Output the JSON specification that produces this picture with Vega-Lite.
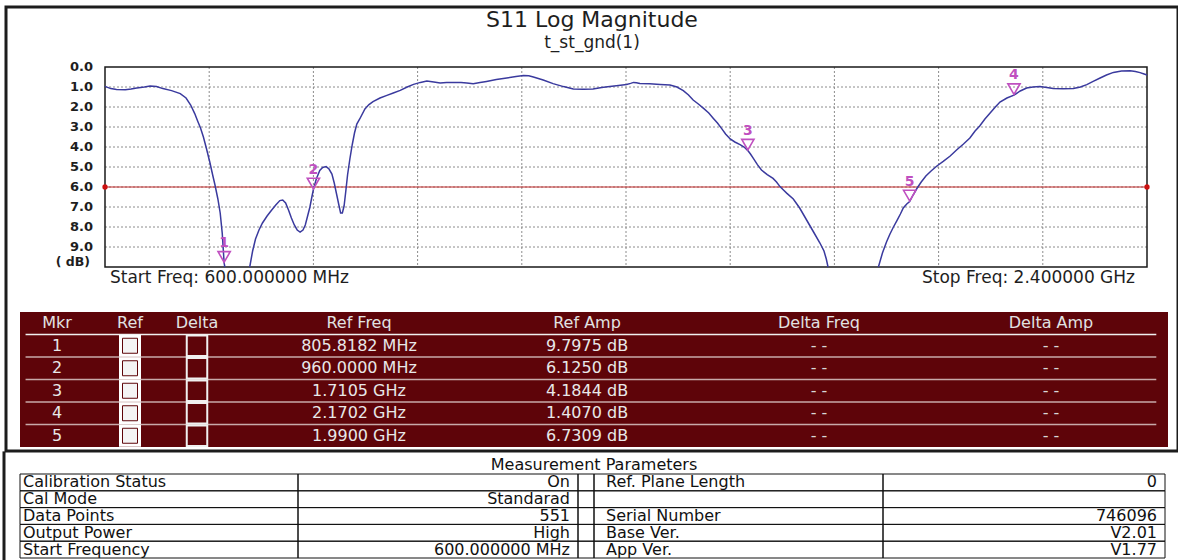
{
  "$schema": "https://vega.github.io/schema/vega-lite/v6.json",
  "width": 1172,
  "height": 444,
  "autosize": "none",
  "padding": {"left": 6, "top": 7, "right": 0, "bottom": 109},
  "background": "white",
  "view": {"stroke": "#1c1c1c", "strokeWidth": 3},
  "config": {"font": "DejaVu Sans"},
  "title": {
    "text": "S11 Log Magnitude",
    "subtitle": "t_st_gnd(1)",
    "anchor": "middle",
    "frame": "group",
    "offset": -45,
    "font": "DejaVu Sans",
    "fontSize": 22,
    "fontWeight": "normal",
    "color": "#1e1e1e",
    "subtitleFont": "DejaVu Sans",
    "subtitleFontSize": 17,
    "subtitleColor": "#1e1e1e",
    "subtitlePadding": 3
  },
  "datasets": {
    "trace": [
      {"seg": "A", "f": 600, "db": 0.97}, {"seg": "A", "f": 610, "db": 1.08}, {"seg": "A", "f": 620, "db": 1.13},
      {"seg": "A", "f": 635, "db": 1.14}, {"seg": "A", "f": 645, "db": 1.1}, {"seg": "A", "f": 655, "db": 1.05},
      {"seg": "A", "f": 668, "db": 1.0}, {"seg": "A", "f": 678, "db": 0.95}, {"seg": "A", "f": 689, "db": 0.98},
      {"seg": "A", "f": 700, "db": 1.08}, {"seg": "A", "f": 715, "db": 1.18}, {"seg": "A", "f": 730, "db": 1.33},
      {"seg": "A", "f": 740, "db": 1.55}, {"seg": "A", "f": 748, "db": 1.9}, {"seg": "A", "f": 755, "db": 2.33},
      {"seg": "A", "f": 760, "db": 2.7}, {"seg": "A", "f": 765, "db": 3.05}, {"seg": "A", "f": 770, "db": 3.5},
      {"seg": "A", "f": 775, "db": 4.05}, {"seg": "A", "f": 781, "db": 4.75}, {"seg": "A", "f": 786, "db": 5.4},
      {"seg": "A", "f": 790, "db": 5.9}, {"seg": "A", "f": 795, "db": 6.6}, {"seg": "A", "f": 799, "db": 7.3},
      {"seg": "A", "f": 802.5, "db": 8.3}, {"seg": "A", "f": 805.8, "db": 9.8}, {"seg": "A", "f": 807, "db": 10.0},
      {"seg": "B", "f": 850, "db": 10.0}, {"seg": "B", "f": 855, "db": 9.2}, {"seg": "B", "f": 860, "db": 8.6},
      {"seg": "B", "f": 866, "db": 8.15}, {"seg": "B", "f": 872, "db": 7.8}, {"seg": "B", "f": 880, "db": 7.45},
      {"seg": "B", "f": 888, "db": 7.15}, {"seg": "B", "f": 895, "db": 6.9}, {"seg": "B", "f": 902, "db": 6.68},
      {"seg": "B", "f": 907, "db": 6.65}, {"seg": "B", "f": 912, "db": 6.8}, {"seg": "B", "f": 917, "db": 7.15},
      {"seg": "B", "f": 922, "db": 7.55}, {"seg": "B", "f": 927, "db": 7.9}, {"seg": "B", "f": 932, "db": 8.15},
      {"seg": "B", "f": 937, "db": 8.25}, {"seg": "B", "f": 942, "db": 8.15}, {"seg": "B", "f": 946, "db": 7.9},
      {"seg": "B", "f": 950, "db": 7.45}, {"seg": "B", "f": 954, "db": 7.0}, {"seg": "B", "f": 957, "db": 6.55},
      {"seg": "B", "f": 960, "db": 6.125}, {"seg": "B", "f": 965, "db": 5.6}, {"seg": "B", "f": 971, "db": 5.17},
      {"seg": "B", "f": 976, "db": 5.02}, {"seg": "B", "f": 982, "db": 4.98}, {"seg": "B", "f": 987, "db": 5.1},
      {"seg": "B", "f": 992, "db": 5.35}, {"seg": "B", "f": 996, "db": 5.8}, {"seg": "B", "f": 1000, "db": 6.35},
      {"seg": "B", "f": 1004, "db": 6.9}, {"seg": "B", "f": 1007, "db": 7.3}, {"seg": "B", "f": 1010, "db": 7.3},
      {"seg": "B", "f": 1013, "db": 6.95}, {"seg": "B", "f": 1016, "db": 6.2}, {"seg": "B", "f": 1019, "db": 5.4},
      {"seg": "B", "f": 1023, "db": 4.6}, {"seg": "B", "f": 1027, "db": 3.9}, {"seg": "B", "f": 1031, "db": 3.3},
      {"seg": "B", "f": 1035, "db": 2.85}, {"seg": "B", "f": 1040, "db": 2.6}, {"seg": "B", "f": 1049, "db": 2.1},
      {"seg": "B", "f": 1056, "db": 1.88}, {"seg": "B", "f": 1063, "db": 1.73}, {"seg": "B", "f": 1075, "db": 1.55},
      {"seg": "B", "f": 1087, "db": 1.42}, {"seg": "B", "f": 1098, "db": 1.3}, {"seg": "B", "f": 1110, "db": 1.17},
      {"seg": "B", "f": 1122, "db": 1.0}, {"seg": "B", "f": 1133, "db": 0.87}, {"seg": "B", "f": 1145, "db": 0.77},
      {"seg": "B", "f": 1156, "db": 0.7}, {"seg": "B", "f": 1168, "db": 0.75}, {"seg": "B", "f": 1179, "db": 0.8},
      {"seg": "B", "f": 1190, "db": 0.78}, {"seg": "B", "f": 1202, "db": 0.77}, {"seg": "B", "f": 1215, "db": 0.78},
      {"seg": "B", "f": 1225, "db": 0.8}, {"seg": "B", "f": 1236, "db": 0.84}, {"seg": "B", "f": 1248, "db": 0.78},
      {"seg": "B", "f": 1259, "db": 0.72}, {"seg": "B", "f": 1276, "db": 0.63}, {"seg": "B", "f": 1294, "db": 0.55},
      {"seg": "B", "f": 1310, "db": 0.47}, {"seg": "B", "f": 1323, "db": 0.42}, {"seg": "B", "f": 1332, "db": 0.44},
      {"seg": "B", "f": 1340, "db": 0.5}, {"seg": "B", "f": 1357, "db": 0.65}, {"seg": "B", "f": 1374, "db": 0.83},
      {"seg": "B", "f": 1392, "db": 0.98}, {"seg": "B", "f": 1409, "db": 1.1}, {"seg": "B", "f": 1426, "db": 1.11},
      {"seg": "B", "f": 1443, "db": 1.1}, {"seg": "B", "f": 1458, "db": 1.03}, {"seg": "B", "f": 1472, "db": 0.97},
      {"seg": "B", "f": 1487, "db": 0.92}, {"seg": "B", "f": 1501, "db": 0.87}, {"seg": "B", "f": 1508, "db": 0.82},
      {"seg": "B", "f": 1513, "db": 0.77}, {"seg": "B", "f": 1518, "db": 0.79}, {"seg": "B", "f": 1524, "db": 0.83},
      {"seg": "B", "f": 1541, "db": 0.84}, {"seg": "B", "f": 1559, "db": 0.87}, {"seg": "B", "f": 1576, "db": 0.9},
      {"seg": "B", "f": 1588, "db": 1.0}, {"seg": "B", "f": 1599, "db": 1.18}, {"seg": "B", "f": 1608, "db": 1.4},
      {"seg": "B", "f": 1616, "db": 1.65}, {"seg": "B", "f": 1625, "db": 1.85}, {"seg": "B", "f": 1634, "db": 2.07},
      {"seg": "B", "f": 1643, "db": 2.3}, {"seg": "B", "f": 1651, "db": 2.57}, {"seg": "B", "f": 1658, "db": 2.8},
      {"seg": "B", "f": 1665, "db": 3.07}, {"seg": "B", "f": 1672, "db": 3.35}, {"seg": "B", "f": 1680, "db": 3.6},
      {"seg": "B", "f": 1688, "db": 3.75}, {"seg": "B", "f": 1697, "db": 3.88}, {"seg": "B", "f": 1704, "db": 4.0},
      {"seg": "B", "f": 1710.5, "db": 4.18}, {"seg": "B", "f": 1715, "db": 4.35}, {"seg": "B", "f": 1720, "db": 4.57},
      {"seg": "B", "f": 1727, "db": 4.88}, {"seg": "B", "f": 1734, "db": 5.15}, {"seg": "B", "f": 1744, "db": 5.38},
      {"seg": "B", "f": 1754, "db": 5.57}, {"seg": "B", "f": 1760, "db": 5.75}, {"seg": "B", "f": 1766, "db": 5.98},
      {"seg": "B", "f": 1772, "db": 6.15}, {"seg": "B", "f": 1778, "db": 6.32}, {"seg": "B", "f": 1789, "db": 6.6},
      {"seg": "B", "f": 1800, "db": 7.05}, {"seg": "B", "f": 1812, "db": 7.65}, {"seg": "B", "f": 1824, "db": 8.25},
      {"seg": "B", "f": 1835, "db": 8.8}, {"seg": "B", "f": 1842, "db": 9.2}, {"seg": "B", "f": 1846, "db": 9.6},
      {"seg": "B", "f": 1849, "db": 10.0},
      {"seg": "C", "f": 1936, "db": 10.0}, {"seg": "C", "f": 1943, "db": 9.3}, {"seg": "C", "f": 1950, "db": 8.75},
      {"seg": "C", "f": 1956, "db": 8.35}, {"seg": "C", "f": 1962, "db": 8.0}, {"seg": "C", "f": 1968, "db": 7.68},
      {"seg": "C", "f": 1974, "db": 7.35}, {"seg": "C", "f": 1979, "db": 7.05}, {"seg": "C", "f": 1985, "db": 6.85},
      {"seg": "C", "f": 1990, "db": 6.73}, {"seg": "C", "f": 1996, "db": 6.4}, {"seg": "C", "f": 2003, "db": 6.05},
      {"seg": "C", "f": 2010, "db": 5.75}, {"seg": "C", "f": 2018, "db": 5.45}, {"seg": "C", "f": 2027, "db": 5.2},
      {"seg": "C", "f": 2037, "db": 4.95}, {"seg": "C", "f": 2048, "db": 4.72}, {"seg": "C", "f": 2060, "db": 4.45},
      {"seg": "C", "f": 2071, "db": 4.15}, {"seg": "C", "f": 2083, "db": 3.85}, {"seg": "C", "f": 2094, "db": 3.55},
      {"seg": "C", "f": 2103, "db": 3.2}, {"seg": "C", "f": 2111, "db": 2.95}, {"seg": "C", "f": 2120, "db": 2.6},
      {"seg": "C", "f": 2129, "db": 2.3}, {"seg": "C", "f": 2138, "db": 2.0}, {"seg": "C", "f": 2146, "db": 1.75},
      {"seg": "C", "f": 2158, "db": 1.55}, {"seg": "C", "f": 2170.2, "db": 1.41}, {"seg": "C", "f": 2181, "db": 1.2},
      {"seg": "C", "f": 2192, "db": 1.05}, {"seg": "C", "f": 2203, "db": 1.0}, {"seg": "C", "f": 2215, "db": 0.97},
      {"seg": "C", "f": 2227, "db": 1.02}, {"seg": "C", "f": 2238, "db": 1.07}, {"seg": "C", "f": 2255, "db": 1.09},
      {"seg": "C", "f": 2273, "db": 1.08}, {"seg": "C", "f": 2285, "db": 1.0}, {"seg": "C", "f": 2296, "db": 0.88},
      {"seg": "C", "f": 2307, "db": 0.72}, {"seg": "C", "f": 2319, "db": 0.55}, {"seg": "C", "f": 2330, "db": 0.4},
      {"seg": "C", "f": 2342, "db": 0.27}, {"seg": "C", "f": 2356, "db": 0.2}, {"seg": "C", "f": 2371, "db": 0.19},
      {"seg": "C", "f": 2380, "db": 0.22}, {"seg": "C", "f": 2388, "db": 0.28}, {"seg": "C", "f": 2395, "db": 0.35},
      {"seg": "C", "f": 2400, "db": 0.4}
    ],
    "markers": [
      {"mkr": 1, "f": 805.8182, "amp": 9.7975, "freq": "805.8182 MHz", "ampText": "9.7975 dB", "dFreq": "- -", "dAmp": "- -"},
      {"mkr": 2, "f": 960.0, "amp": 6.125, "freq": "960.0000 MHz", "ampText": "6.1250 dB", "dFreq": "- -", "dAmp": "- -"},
      {"mkr": 3, "f": 1710.5, "amp": 4.1844, "freq": "1.7105 GHz", "ampText": "4.1844 dB", "dFreq": "- -", "dAmp": "- -"},
      {"mkr": 4, "f": 2170.2, "amp": 1.407, "freq": "2.1702 GHz", "ampText": "1.4070 dB", "dFreq": "- -", "dAmp": "- -"},
      {"mkr": 5, "f": 1990.0, "amp": 6.7309, "freq": "1.9900 GHz", "ampText": "6.7309 dB", "dFreq": "- -", "dAmp": "- -"}
    ],
    "ticks": [
      {"db": 0, "label": "0.0"}, {"db": 1, "label": "1.0"}, {"db": 2, "label": "2.0"}, {"db": 3, "label": "3.0"},
      {"db": 4, "label": "4.0"}, {"db": 5, "label": "5.0"}, {"db": 6, "label": "6.0"}, {"db": 7, "label": "7.0"},
      {"db": 8, "label": "8.0"}, {"db": 9, "label": "9.0"}, {"db": 10, "label": "( dB)"}
    ],
    "vgrid": [{"f": 780}, {"f": 960}, {"f": 1140}, {"f": 1320}, {"f": 1500}, {"f": 1680}, {"f": 1860}, {"f": 2040}, {"f": 2220}],
    "refLevel": [{"db": 6}],
    "refEnds": [{"f": 600, "db": 6}, {"f": 2400, "db": 6}],
    "freqLabels": [{"f": 600, "label": "Start Freq: 600.000000 MHz"}, {"f": 2400, "label": "Stop Freq: 2.400000 GHz"}],
    "plotFrame": [{"f0": 600, "f1": 2400, "db0": 0, "db1": 10}],
    "mheader": [
      {"col": 1, "label": "Mkr"}, {"col": 2, "label": "Ref"}, {"col": 3, "label": "Delta"},
      {"col": 4, "label": "Ref Freq"}, {"col": 5, "label": "Ref Amp"}, {"col": 6, "label": "Delta Freq"}, {"col": 7, "label": "Delta Amp"}
    ],
    "mtable": [{"table": "markers"}],
    "params": [
      {"row": 0, "label": "Calibration Status", "value": "On", "label2": "Ref. Plane Length", "value2": "0"},
      {"row": 1, "label": "Cal Mode", "value": "Standarad", "label2": "", "value2": ""},
      {"row": 2, "label": "Data Points", "value": "551", "label2": "Serial Number", "value2": "746096"},
      {"row": 3, "label": "Output Power", "value": "High", "label2": "Base Ver.", "value2": "V2.01"},
      {"row": 4, "label": "Start Frequency", "value": "600.000000 MHz", "label2": "App Ver.", "value2": "V1.77"}
    ],
    "ptitle": [{"text": "Measurement Parameters"}]
  },
  "layer": [
    {
      "layer": [
        {
          "data": {"name": "ticks"},
          "transform": [{"filter": "datum.db > 0 && datum.db < 10"}],
          "mark": {"type": "rule", "stroke": "#8c8c8c", "strokeDash": [2, 2], "strokeWidth": 1},
          "encoding": {
            "x": {"datum": 600, "type": "quantitative", "axis": null, "scale": {"type": "linear", "domain": [600, 2400], "range": [99, 1141], "nice": false, "zero": false}},
            "x2": {"datum": 2400},
            "y": {"field": "db", "type": "quantitative", "axis": null, "scale": {"type": "linear", "domain": [0, 10], "range": [60, 260], "nice": false, "zero": false}}
          }
        },
        {
          "data": {"name": "vgrid"},
          "mark": {"type": "rule", "stroke": "#8c8c8c", "strokeDash": [2, 2], "strokeWidth": 1},
          "encoding": {
            "x": {"field": "f", "type": "quantitative", "axis": null},
            "y": {"datum": 0, "type": "quantitative", "axis": null},
            "y2": {"datum": 10}
          }
        },
        {
          "data": {"name": "plotFrame"},
          "mark": {"type": "rect", "filled": false, "stroke": "#1a1a1a", "strokeWidth": 1.5},
          "encoding": {
            "x": {"field": "f0", "type": "quantitative", "axis": null},
            "x2": {"field": "f1"},
            "y": {"field": "db0", "type": "quantitative", "axis": null},
            "y2": {"field": "db1"}
          }
        },
        {
          "data": {"name": "refLevel"},
          "mark": {"type": "rule", "stroke": "#c02828", "strokeWidth": 1.2},
          "encoding": {
            "x": {"datum": 600, "type": "quantitative", "axis": null},
            "x2": {"datum": 2400},
            "y": {"field": "db", "type": "quantitative", "axis": null}
          }
        },
        {
          "data": {"name": "refEnds"},
          "mark": {"type": "point", "filled": true, "color": "#cc1111", "size": 28, "opacity": 1},
          "encoding": {
            "x": {"field": "f", "type": "quantitative", "axis": null},
            "y": {"field": "db", "type": "quantitative", "axis": null}
          }
        },
        {
          "data": {"name": "trace"},
          "mark": {"type": "line", "stroke": "#3a3a9e", "strokeWidth": 1.5, "interpolate": "linear"},
          "encoding": {
            "x": {"field": "f", "type": "quantitative", "axis": null},
            "y": {"field": "db", "type": "quantitative", "axis": null, "scale": {"type": "linear", "domain": [0, 10], "range": [60, 260], "nice": false, "zero": false}},
            "detail": {"field": "seg", "type": "nominal"}
          }
        },
        {
          "data": {"name": "markers"},
          "mark": {"type": "point", "shape": "triangle-down", "filled": false, "stroke": "#c050c0", "strokeWidth": 1.6, "size": 150, "yOffset": -6, "opacity": 1},
          "encoding": {
            "x": {"field": "f", "type": "quantitative", "axis": null},
            "y": {"field": "amp", "type": "quantitative", "axis": null}
          }
        },
        {
          "data": {"name": "markers"},
          "mark": {"type": "text", "color": "#c050c0", "fontWeight": "bold", "fontSize": 14, "dy": -20, "baseline": "middle", "font": "DejaVu Sans"},
          "encoding": {
            "x": {"field": "f", "type": "quantitative", "axis": null},
            "y": {"field": "amp", "type": "quantitative", "axis": null},
            "text": {"field": "mkr", "type": "nominal"}
          }
        },
        {
          "data": {"name": "ticks"},
          "transform": [{"filter": "datum.db < 10"}],
          "mark": {"type": "text", "align": "right", "baseline": "middle", "dx": -12, "fontSize": 13, "fontWeight": "bold", "font": "DejaVu Sans", "color": "#1e1e1e"},
          "encoding": {
            "x": {"datum": 600, "type": "quantitative", "axis": null},
            "y": {"field": "db", "type": "quantitative", "axis": null},
            "text": {"field": "label", "type": "nominal"}
          }
        },
        {
          "data": {"name": "ticks"},
          "transform": [{"filter": "datum.db == 10"}],
          "mark": {"type": "text", "align": "right", "baseline": "bottom", "dx": -15, "dy": 2, "fontSize": 12.5, "fontWeight": "bold", "font": "DejaVu Sans", "color": "#1e1e1e"},
          "encoding": {
            "x": {"datum": 600, "type": "quantitative", "axis": null},
            "y": {"field": "db", "type": "quantitative", "axis": null},
            "text": {"field": "label", "type": "nominal"}
          }
        },
        {
          "data": {"name": "freqLabels"},
          "transform": [{"filter": "datum.f == 600"}],
          "mark": {"type": "text", "align": "left", "baseline": "alphabetic", "dx": 5, "dy": 16, "fontSize": 17, "font": "DejaVu Sans", "color": "#1e1e1e"},
          "encoding": {
            "x": {"field": "f", "type": "quantitative", "axis": null},
            "y": {"datum": 10, "type": "quantitative", "axis": null},
            "text": {"field": "label", "type": "nominal"}
          }
        },
        {
          "data": {"name": "freqLabels"},
          "transform": [{"filter": "datum.f == 2400"}],
          "mark": {"type": "text", "align": "right", "baseline": "alphabetic", "dx": -12, "dy": 16, "fontSize": 17, "font": "DejaVu Sans", "color": "#1e1e1e"},
          "encoding": {
            "x": {"field": "f", "type": "quantitative", "axis": null},
            "y": {"datum": 10, "type": "quantitative", "axis": null},
            "text": {"field": "label", "type": "nominal"}
          }
        }
      ]
    },
    {
      "layer": [
        {
          "data": {"name": "mtable"},
          "mark": {"type": "rect", "fill": "#5e0409"},
          "encoding": {
            "x": {"datum": 0, "type": "quantitative", "axis": null, "scale": {"type": "linear", "domain": [0, 1, 2, 3, 4, 5, 6, 7, 8], "range": [14, 51, 124, 191, 353, 581, 813, 1045, 1162], "nice": false, "zero": false}},
            "x2": {"datum": 8},
            "y": {"datum": -0.5, "type": "quantitative", "axis": null, "scale": {"type": "linear", "domain": [-0.5, 5.5], "range": [305, 440], "nice": false, "zero": false}},
            "y2": {"datum": 5.5}
          }
        },
        {
          "data": {"name": "markers"},
          "mark": {"type": "rule", "strokeWidth": 1.5, "yOffset": -11.25},
          "encoding": {
            "x": {"datum": 0.15, "type": "quantitative", "axis": null},
            "x2": {"datum": 7.9},
            "y": {"field": "mkr", "type": "quantitative", "axis": null},
            "color": {"condition": {"test": "datum.mkr == 1", "value": "#f0f0f0"}, "value": "#c8aaaa"}
          }
        },
        {
          "data": {"name": "mheader"},
          "mark": {"type": "text", "baseline": "middle", "fontSize": 16, "font": "DejaVu Sans", "color": "#e2e2e2"},
          "encoding": {
            "x": {"field": "col", "type": "quantitative", "axis": null},
            "y": {"datum": 0, "type": "quantitative", "axis": null},
            "text": {"field": "label", "type": "nominal"}
          }
        },
        {
          "data": {"name": "markers"},
          "mark": {"type": "text", "baseline": "middle", "fontSize": 16, "font": "DejaVu Sans", "color": "#e8e8e8"},
          "encoding": {
            "x": {"datum": 1, "type": "quantitative", "axis": null},
            "y": {"field": "mkr", "type": "quantitative", "axis": null},
            "text": {"field": "mkr", "type": "nominal"}
          }
        },
        {
          "data": {"name": "markers"},
          "mark": {"type": "square", "filled": true, "fill": "#ffffff", "stroke": "#ffffff", "strokeWidth": 2, "size": 400, "opacity": 1},
          "encoding": {
            "x": {"datum": 2, "type": "quantitative", "axis": null},
            "y": {"field": "mkr", "type": "quantitative", "axis": null}
          }
        },
        {
          "data": {"name": "markers"},
          "mark": {"type": "square", "filled": true, "fill": "#f4f4f4", "stroke": "#5e0409", "strokeWidth": 1, "size": 225, "opacity": 1},
          "encoding": {
            "x": {"datum": 2, "type": "quantitative", "axis": null},
            "y": {"field": "mkr", "type": "quantitative", "axis": null}
          }
        },
        {
          "data": {"name": "markers"},
          "mark": {"type": "square", "filled": false, "stroke": "#f0f0f0", "strokeWidth": 2, "size": 420, "opacity": 1},
          "encoding": {
            "x": {"datum": 3, "type": "quantitative", "axis": null},
            "y": {"field": "mkr", "type": "quantitative", "axis": null}
          }
        },
        {
          "data": {"name": "markers"},
          "mark": {"type": "text", "baseline": "middle", "fontSize": 16, "font": "DejaVu Sans", "color": "#e8e8e8"},
          "encoding": {
            "x": {"datum": 4, "type": "quantitative", "axis": null},
            "y": {"field": "mkr", "type": "quantitative", "axis": null},
            "text": {"field": "freq", "type": "nominal"}
          }
        },
        {
          "data": {"name": "markers"},
          "mark": {"type": "text", "baseline": "middle", "fontSize": 16, "font": "DejaVu Sans", "color": "#e8e8e8"},
          "encoding": {
            "x": {"datum": 5, "type": "quantitative", "axis": null},
            "y": {"field": "mkr", "type": "quantitative", "axis": null},
            "text": {"field": "ampText", "type": "nominal"}
          }
        },
        {
          "data": {"name": "markers"},
          "mark": {"type": "text", "baseline": "middle", "fontSize": 16, "font": "DejaVu Sans", "color": "#d8d8d8"},
          "encoding": {
            "x": {"datum": 6, "type": "quantitative", "axis": null},
            "y": {"field": "mkr", "type": "quantitative", "axis": null},
            "text": {"field": "dFreq", "type": "nominal"}
          }
        },
        {
          "data": {"name": "markers"},
          "mark": {"type": "text", "baseline": "middle", "fontSize": 16, "font": "DejaVu Sans", "color": "#d8d8d8"},
          "encoding": {
            "x": {"datum": 7, "type": "quantitative", "axis": null},
            "y": {"field": "mkr", "type": "quantitative", "axis": null},
            "text": {"field": "dAmp", "type": "nominal"}
          }
        }
      ]
    },
    {
      "layer": [
        {
          "data": {"name": "params"},
          "mark": {"type": "rect", "filled": false, "stroke": "#111111", "strokeWidth": 1},
          "encoding": {
            "x": {"datum": 0, "type": "quantitative", "axis": null, "scale": {"type": "linear", "domain": [-1, 0, 1, 2, 3, 4, 5], "range": [-2, 14, 292, 572, 588, 877, 1159], "nice": false, "zero": false}},
            "x2": {"datum": 1},
            "y": {"field": "row", "type": "ordinal", "axis": null, "scale": {"type": "band", "domain": [0, 1, 2, 3, 4], "range": [467, 551], "paddingInner": 0, "paddingOuter": 0}}
          }
        },
        {
          "data": {"name": "params"},
          "mark": {"type": "rect", "filled": false, "stroke": "#111111", "strokeWidth": 1},
          "encoding": {
            "x": {"datum": 1, "type": "quantitative", "axis": null},
            "x2": {"datum": 2},
            "y": {"field": "row", "type": "ordinal", "axis": null}
          }
        },
        {
          "data": {"name": "params"},
          "mark": {"type": "rect", "filled": false, "stroke": "#111111", "strokeWidth": 1},
          "encoding": {
            "x": {"datum": 2, "type": "quantitative", "axis": null},
            "x2": {"datum": 3},
            "y": {"field": "row", "type": "ordinal", "axis": null}
          }
        },
        {
          "data": {"name": "params"},
          "mark": {"type": "rect", "filled": false, "stroke": "#111111", "strokeWidth": 1},
          "encoding": {
            "x": {"datum": 3, "type": "quantitative", "axis": null},
            "x2": {"datum": 4},
            "y": {"field": "row", "type": "ordinal", "axis": null}
          }
        },
        {
          "data": {"name": "params"},
          "mark": {"type": "rect", "filled": false, "stroke": "#111111", "strokeWidth": 1},
          "encoding": {
            "x": {"datum": 4, "type": "quantitative", "axis": null},
            "x2": {"datum": 5},
            "y": {"field": "row", "type": "ordinal", "axis": null}
          }
        },
        {
          "data": {"name": "ptitle"},
          "mark": {"type": "rule", "stroke": "#1c1c1c", "strokeWidth": 3, "yOffset": -31, "y2Offset": 12},
          "encoding": {
            "x": {"datum": -1, "type": "quantitative", "axis": null},
            "y": {"datum": 0, "type": "ordinal", "axis": null},
            "y2": {"datum": 4}
          }
        },
        {
          "data": {"name": "ptitle"},
          "mark": {"type": "text", "baseline": "middle", "dy": -17, "fontSize": 16, "font": "DejaVu Sans", "color": "#111111"},
          "encoding": {
            "x": {"datum": 3, "type": "quantitative", "axis": null},
            "y": {"datum": 0, "type": "ordinal", "axis": null},
            "text": {"field": "text", "type": "nominal"}
          }
        },
        {
          "data": {"name": "params"},
          "mark": {"type": "text", "align": "left", "baseline": "middle", "dx": 3, "fontSize": 16, "font": "DejaVu Sans", "color": "#111111"},
          "encoding": {
            "x": {"datum": 0, "type": "quantitative", "axis": null},
            "y": {"field": "row", "type": "ordinal", "axis": null},
            "text": {"field": "label", "type": "nominal"}
          }
        },
        {
          "data": {"name": "params"},
          "mark": {"type": "text", "align": "right", "baseline": "middle", "dx": -8, "fontSize": 16, "font": "DejaVu Sans", "color": "#111111"},
          "encoding": {
            "x": {"datum": 2, "type": "quantitative", "axis": null},
            "y": {"field": "row", "type": "ordinal", "axis": null},
            "text": {"field": "value", "type": "nominal"}
          }
        },
        {
          "data": {"name": "params"},
          "mark": {"type": "text", "align": "left", "baseline": "middle", "dx": 12, "fontSize": 16, "font": "DejaVu Sans", "color": "#111111"},
          "encoding": {
            "x": {"datum": 3, "type": "quantitative", "axis": null},
            "y": {"field": "row", "type": "ordinal", "axis": null},
            "text": {"field": "label2", "type": "nominal"}
          }
        },
        {
          "data": {"name": "params"},
          "mark": {"type": "text", "align": "right", "baseline": "middle", "dx": -8, "fontSize": 16, "font": "DejaVu Sans", "color": "#111111"},
          "encoding": {
            "x": {"datum": 5, "type": "quantitative", "axis": null},
            "y": {"field": "row", "type": "ordinal", "axis": null},
            "text": {"field": "value2", "type": "nominal"}
          }
        }
      ]
    }
  ],
  "resolve": {"scale": {"x": "independent", "y": "independent"}}
}
